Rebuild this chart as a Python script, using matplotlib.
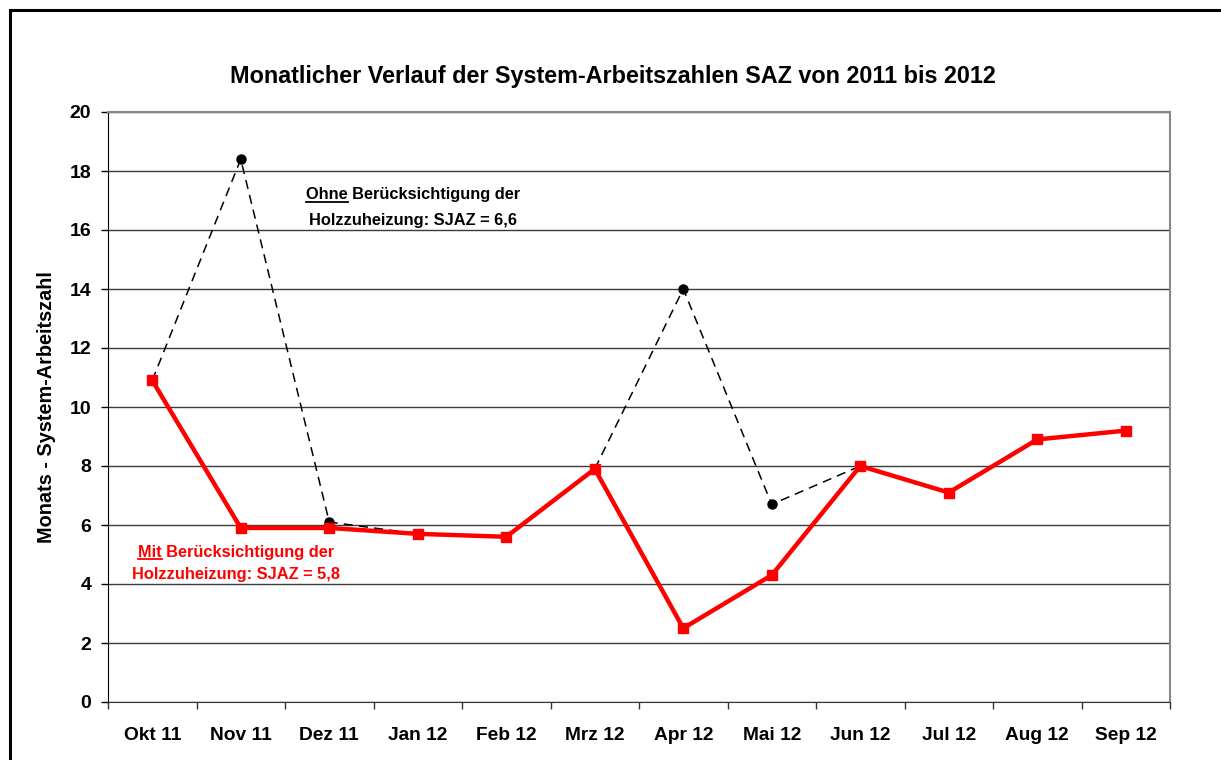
import matplotlib.pyplot as plt
import matplotlib.patches as mpatches
from matplotlib.lines import Line2D
import numpy as np

plt.rcParams['font.family'] = ['Liberation Sans', 'DejaVu Sans']

# data
months = ['Okt 11', 'Nov 11', 'Dez 11', 'Jan 12', 'Feb 12', 'Mrz 12',
          'Apr 12', 'Mai 12', 'Jun 12', 'Jul 12', 'Aug 12', 'Sep 12']
saz_mit = [10.9, 5.9, 5.9, 5.7, 5.6, 7.9, 2.5, 4.3, 8.0, 7.1, 8.9, 9.2]
saz_ohne = [10.9, 18.4, 6.1, 5.7, 5.6, 7.9, 14.0, 6.7, 8.0]

dpi = 100
W, H = 1221, 760
fig = plt.figure(figsize=(W / dpi, H / dpi), dpi=dpi)
ax = fig.add_axes([108 / W, 1 - 702 / H, (1170 - 108) / W, (702 - 112) / H])

x = np.arange(len(months))

ax.plot(x[:len(saz_ohne)], saz_ohne, color='black', lw=1.1, ls=(0, (6, 4)),
        marker='o', ms=6.5, zorder=3)
ax.plot(x, saz_mit, color='#ff0000', lw=3.2, marker='s', ms=7, zorder=4)

ax.set_xlim(-0.5, len(months) - 0.5)
ax.set_ylim(0, 20)
ax.set_yticks(np.arange(0, 21, 2))
ax.yaxis.grid(True, color='#3a3a3a', lw=1.0)
ax.set_axisbelow(True)

ax.set_xticks(x)
ax.set_xticklabels(months, fontsize=13.8, fontweight='bold')
ax.tick_params(axis='x', which='major', length=0, pad=18)
ax.set_xticks(np.arange(-0.5, len(months)), minor=True)
ax.tick_params(axis='x', which='minor', length=5, width=1, color='#333333')
ax.tick_params(axis='y', length=5, width=1, labelsize=14, pad=7)
for lab in ax.get_yticklabels():
    lab.set_fontweight('bold')

for s in ['top', 'right']:
    ax.spines[s].set_color('#888888')
    ax.spines[s].set_linewidth(1.5)
ax.spines['left'].set_color('black')
ax.spines['bottom'].set_color('#333333')

ax.set_ylabel('Monats - System-Arbeitszahl', fontsize=14.3, fontweight='bold', labelpad=10)

fig.text(613 / W, 1 - 76 / H,
         'Monatlicher Verlauf der System-Arbeitszahlen SAZ von 2011 bis 2012',
         ha='center', va='center', fontsize=16.8, fontweight='bold')


def note(xc, y1, y2, word, rest, line2, color):
    kw = dict(ha='center', va='baseline', fontsize=11.8, fontweight='bold', color=color)
    t1 = ax.text(xc, y1, word + ' ' + rest, **kw)
    ax.text(xc, y2, line2, **kw)
    r = fig.canvas.get_renderer()
    bb = t1.get_window_extent(r)
    tw = ax.text(0, 0, word, **kw)
    ww = tw.get_window_extent(r).width
    tw.remove()
    base = ax.transData.transform((xc, y1))[1] - 2.5
    fx0, fy = fig.transFigure.inverted().transform((bb.x0, base))
    fx1, _ = fig.transFigure.inverted().transform((bb.x0 + ww, base))
    fig.lines.append(Line2D([fx0, fx1], [fy, fy], transform=fig.transFigure,
                            color=color, lw=1.3))


note(2.95, 17.05, 16.17, 'Ohne', 'Berücksichtigung der',
     'Holzzuheizung: SJAZ = 6,6', 'black')
note(0.95, 4.92, 4.17, 'Mit', 'Berücksichtigung der',
     'Holzzuheizung: SJAZ = 5,8', '#ff0000')

frame = mpatches.Rectangle((10 / W, -0.1), 1.2, 1.1 - 10 / H,
                           transform=fig.transFigure, fill=False,
                           edgecolor='black', lw=2.2, clip_on=False)
fig.patches.append(frame)

fig.savefig('out.png', dpi=dpi)
